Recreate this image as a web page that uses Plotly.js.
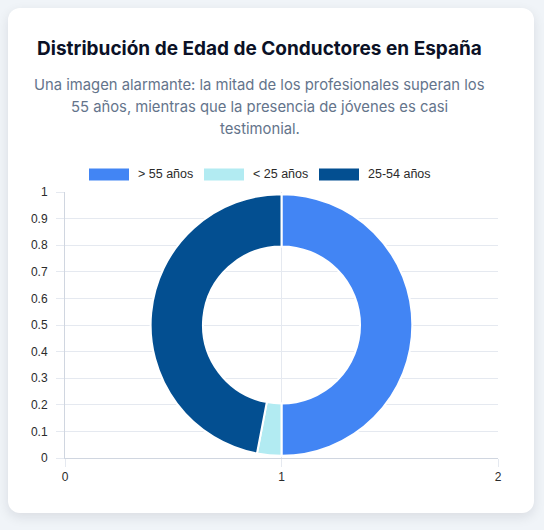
<!DOCTYPE html>
<html>
<head>
<meta charset="utf-8">
<script src="https://cdn.plot.ly/plotly-3.0.1.min.js"></script>
<style>
  html, body { margin:0; padding:0; background:#f0f4f8; width:544px; height:530px; overflow:hidden; }
  #card { position:absolute; left:8px; top:8px; width:526px; height:505px; background:#ffffff;
          border-radius:12px; box-shadow:0 4px 12px rgba(15,23,42,0.10); }
  #chart { position:absolute; left:0; top:0; width:544px; height:530px; }
</style>
</head>
<body>
<div id="card"></div>
<div id="chart"></div>
<script>
// ---- data ----
const categories = ['> 55 años', '< 25 años', '25-54 años'];
const shares = [50, 3, 47];
const sliceColors = ['#4285f4', '#b2ebf2', '#034f91'];
const xTickVals = [0, 1, 2];
const yTickVals = [0, 0.1, 0.2, 0.3, 0.4, 0.5, 0.6, 0.7, 0.8, 0.9, 1];
const yTickText = ['0', '0.1', '0.2', '0.3', '0.4', '0.5', '0.6', '0.7', '0.8', '0.9', '1'];
const titleText = 'Distribución de Edad de Conductores en España';
const subtitleLines = [
  'Una imagen alarmante: la mitad de los profesionales superan los',
  '55 años, mientras que la presencia de jóvenes es casi',
  'testimonial.'
];

// ---- layout geometry ----
const W = 544, H = 530;
const M = { l: 65, r: 46, t: 192, b: 72 };
const pw = W - M.l - M.r, ph = H - M.t - M.b;
const px = x => (x - M.l) / pw;
const py = y => (H - M.b - y) / ph;

const tickFont = { family: 'Liberation Sans, Arial, sans-serif', size: 12, color: '#2b2b2b' };
const legendFont = { family: 'Liberation Sans, Arial, sans-serif', size: 12.5, color: '#2b2b2b' };

// custom legend (boxes 40x12 like the original)
const legendBoxX = [89, 204, 319];
const shapes = [];
const annotations = [];
categories.forEach((c, i) => {
  shapes.push({
    type: 'rect', xref: 'paper', yref: 'paper', layer: 'above',
    x0: px(legendBoxX[i]), x1: px(legendBoxX[i] + 40),
    y0: py(180.5), y1: py(168.5),
    fillcolor: sliceColors[i], line: { width: 0 }
  });
  annotations.push({
    xref: 'paper', yref: 'paper', x: px(legendBoxX[i] + 47), y: py(174.5),
    xanchor: 'left', yanchor: 'middle', showarrow: false,
    text: c, font: legendFont
  });
});

// subtitle, one annotation per line for the original line spacing
const subtitleY = [85, 107, 129];
subtitleLines.forEach((line, i) => {
  annotations.push({
    xref: 'paper', yref: 'paper', x: px(259.5), y: py(subtitleY[i]),
    xanchor: 'center', yanchor: 'middle', showarrow: false, align: 'center',
    text: line,
    font: { family: 'Inter, sans-serif', size: 14.8, color: '#64748b' }
  });
});

const traces = [
  { type: 'scatter', x: [null], y: [null], mode: 'markers', showlegend: false, hoverinfo: 'skip' },
  {
    type: 'pie',
    labels: categories,
    values: shares,
    marker: { colors: sliceColors, line: { color: '#ffffff', width: 2 } },
    hole: 0.6,
    sort: false,
    direction: 'clockwise',
    rotation: 0,
    textinfo: 'none',
    hoverinfo: 'label+percent',
    showlegend: false,
    domain: { x: [0, 1], y: [0.008, 0.992] }
  }
];

const layout = {
  width: W, height: H,
  margin: M,
  paper_bgcolor: 'rgba(0,0,0,0)',
  plot_bgcolor: 'rgba(0,0,0,0)',
  showlegend: false,
  title: {
    text: '<b>' + titleText + '</b>',
    xref: 'paper', x: px(259.5), xanchor: 'center',
    yref: 'container', y: 1 - 48 / H, yanchor: 'middle',
    font: { family: 'Inter, sans-serif', size: 19, color: '#0b1126' }
  },
  xaxis: {
    range: [0, 2], tickvals: xTickVals, ticktext: xTickVals.map(String),
    showgrid: true, gridcolor: '#e5e9f0', gridwidth: 1,
    showline: true, linecolor: '#d0d6e0', linewidth: 1,
    ticks: 'outside', ticklen: 8, tickcolor: '#e5e9f0',
    zeroline: false, tickfont: tickFont, fixedrange: true
  },
  yaxis: {
    range: [0, 1], tickvals: yTickVals, ticktext: yTickText,
    showgrid: true, gridcolor: '#e5e9f0', gridwidth: 1,
    showline: true, linecolor: '#d0d6e0', linewidth: 1,
    ticks: 'outside', ticklen: 8, tickcolor: '#e5e9f0',
    ticklabelstandoff: 6,
    zeroline: false, tickfont: tickFont, fixedrange: true
  },
  shapes: shapes,
  annotations: annotations
};

Plotly.newPlot('chart', traces, layout, { displayModeBar: false });
</script>
</body>
</html>
